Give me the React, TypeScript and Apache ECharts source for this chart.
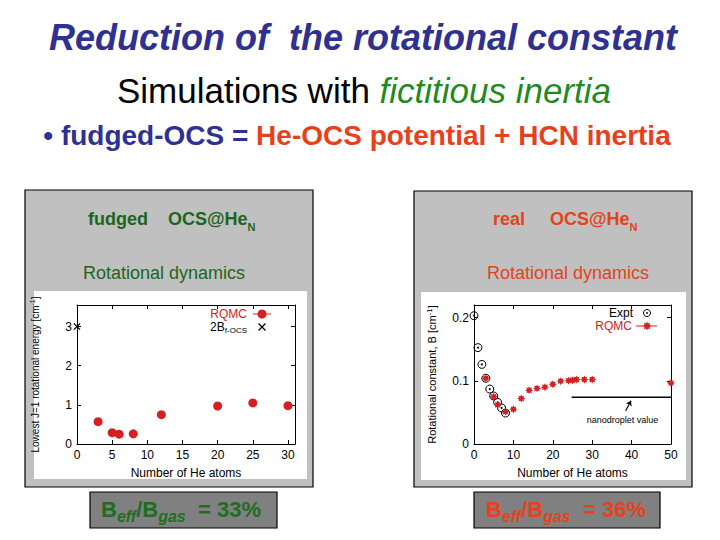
import React, { useEffect, useRef } from "react";
import * as echarts from "echarts";

const FONT = "'Liberation Sans', Arial, Helvetica, sans-serif";
const BLUE = "#2e3192";
const ORANGE = "#e5421c";
const DKGREEN = "#1c661c";
const GREEN = "#1f8a1f";
const BOXGREEN = "#1f6e1f";
const RED = "#d42020";

// ---- fudged OCS@He_N : lowest J=1 rotational energy [cm^-1] ----
const fudgedN = [3, 5, 6, 8, 12, 20, 25, 30];
const fudgedEnergy = [0.57, 0.29, 0.25, 0.26, 0.75, 0.97, 1.05, 0.98];
const twoBodyN = [0];
const twoBodyEnergy = [3.0];
const leftXTicks = [0, 5, 10, 15, 20, 25, 30];
const leftYTicks = [0, 1, 2, 3];

// ---- real OCS@He_N : rotational constant B [cm^-1] ----
const exptN = [0, 1, 2, 3, 4, 5, 6, 7, 8];
const exptB = [0.203, 0.1525, 0.126, 0.104, 0.087, 0.076, 0.066, 0.057, 0.049];
const rqmcN = [3, 5, 6, 8, 10, 12, 14, 16, 18, 20, 22, 24, 25, 26, 28, 30, 50];
const rqmcB = [0.104, 0.075, 0.062, 0.051, 0.055, 0.072, 0.085, 0.088, 0.09, 0.0945, 0.0995, 0.1003, 0.101, 0.102, 0.102, 0.102, 0.0966];
const nanodropletN = [24.8, 50];
const nanodropletB = [0.074, 0.074];
const arrowN = [38.5, 39.85];
const arrowB = [0.0527, 0.0685];
const rightXTicks = [0, 10, 20, 30, 40, 50];
const rightYTicks = [0, 0.1, 0.2];

const zip = (xs: number[], ys: number[]) => xs.map((x, i) => [x, ys[i]]);

const tickFmt = (ticks: number[]) => (v: number) => {
  const t = ticks.find((k) => Math.abs(k - v) < 1e-9);
  return t === undefined ? "" : String(t);
};

const starPts = (cx: number, cy: number, ro: number, ri: number) =>
  Array.from({ length: 16 }, (_, i) => {
    const a = -Math.PI / 2 + (i * Math.PI) / 8;
    const r = i % 2 === 0 ? ro : ri;
    return [cx + r * Math.cos(a), cy + r * Math.sin(a)];
  });
const STAR_PATH =
  "path://" +
  starPts(10, 10, 10, 6)
    .map((p, i) => (i ? "L" : "M") + p[0].toFixed(2) + "," + p[1].toFixed(2))
    .join("") +
  "Z";
const CROSS_PATH =
  "path://M0,1.2L1.2,0L5,3.8L8.8,0L10,1.2L6.2,5L10,8.8L8.8,10L5,6.2L1.2,10L0,8.8L3.8,5Z";

function xAx(gi: number, min: number, max: number, interval: number, ticks: number[], bottom: boolean) {
  return {
    type: "value",
    gridIndex: gi,
    position: bottom ? "bottom" : "top",
    min,
    max,
    interval,
    axisLine: { show: true, onZero: false, lineStyle: { color: "#000", width: 1 } },
    axisTick: { show: true, inside: true, length: 4, lineStyle: { color: "#000" } },
    axisLabel: bottom
      ? { show: true, margin: 5, fontSize: 12, color: "#000", fontFamily: FONT, formatter: tickFmt(ticks) }
      : { show: false },
    splitLine: { show: false },
    name: bottom ? "Number of He atoms" : "",
    nameLocation: "middle",
    nameGap: 23,
    nameTextStyle: { fontSize: 12, color: "#000", fontFamily: FONT },
  };
}

function yAx(
  gi: number,
  min: number,
  max: number,
  interval: number,
  ticks: number[],
  left: boolean,
  name: string,
  nameSize: number,
  nameGap: number
) {
  return {
    type: "value",
    gridIndex: gi,
    position: left ? "left" : "right",
    min,
    max,
    interval,
    axisLine: { show: true, onZero: false, lineStyle: { color: "#000", width: 1 } },
    axisTick: { show: true, inside: true, length: 4, lineStyle: { color: "#000" } },
    axisLabel: left
      ? { show: true, margin: 5, fontSize: 12, color: "#000", fontFamily: FONT, formatter: tickFmt(ticks) }
      : { show: false },
    splitLine: { show: false },
    name: left ? name : "",
    nameLocation: "middle",
    nameGap,
    nameRotate: 90,
    nameTextStyle: {
      fontSize: nameSize,
      lineHeight: nameSize + 3,
      color: "#000",
      fontFamily: FONT,
      rich: {
        sup: { fontSize: nameSize - 3, lineHeight: nameSize - 3, verticalAlign: "top", color: "#000", fontFamily: FONT },
      },
    },
  };
}

function txt(x: number, y: number, text: string, style: any, extra: any = {}) {
  return {
    type: "text",
    x,
    y,
    z: 100,
    style: { text, fontFamily: FONT, align: "left", verticalAlign: "middle", ...style },
    ...extra,
  };
}

function rect(x: number, y: number, w: number, h: number, fill: string, stroke?: string, z = -10) {
  return {
    type: "rect",
    z,
    shape: { x, y, width: w, height: h },
    style: { fill, stroke: stroke || null, lineWidth: stroke ? 1.2 : 0 },
  };
}

export default function App() {
  const ref = useRef<HTMLDivElement>(null);

  useEffect(() => {
    if (!ref.current) return;
    const chart = echarts.init(ref.current, null, { renderer: "svg" });

    const headMain = (color: string) => ({ fontSize: 18, fontWeight: "bold", fill: color, fontFamily: FONT, lineHeight: 26 });
    const headSub = (color: string) => ({
      fontSize: 11,
      fontWeight: "bold",
      fill: color,
      fontFamily: FONT,
      lineHeight: 11,
      verticalAlign: "bottom",
    });
    const boxMain = (color: string) => ({ fontSize: 22, fontWeight: "bold", fill: color, fontFamily: FONT, lineHeight: 30 });
    const boxSub = (color: string) => ({
      fontSize: 16,
      fontWeight: "bold",
      fontStyle: "italic",
      fill: color,
      fontFamily: FONT,
      lineHeight: 16,
      verticalAlign: "bottom",
    });

    const legendStar = starPts(647, 326, 4.5, 2.7).map((p) => [p[0], p[1]]);

    const graphic: any[] = [
      // panels
      rect(25, 190, 288, 297, "#c0c0c0", "#000", -20),
      rect(34, 291, 273, 188, "#ffffff", undefined, -15),
      rect(414, 191, 278, 296, "#c0c0c0", "#000", -20),
      rect(421, 292, 265, 188, "#ffffff", undefined, -15),
      rect(90, 492, 187, 36, "#808080", "#000", -20),
      rect(474, 492, 186, 36, "#808080", "#000", -20),

      // title lines
      txt(363, 37, "Reduction of  the rotational constant", {
        fontSize: 36,
        fontWeight: "bold",
        fontStyle: "italic",
        fill: BLUE,
        align: "center",
      }),
      txt(364, 90, "{k|Simulations with }{g|fictitious inertia}", {
        align: "center",
        rich: {
          k: { fontSize: 35, fill: "#000", fontFamily: FONT },
          g: { fontSize: 35, fontStyle: "italic", fill: GREEN, fontFamily: FONT },
        },
      }),
      txt(357, 135, "{b|• fudged-OCS = }{r|He-OCS potential + HCN inertia}", {
        align: "center",
        rich: {
          b: { fontSize: 28, fontWeight: "bold", fill: BLUE, fontFamily: FONT },
          r: { fontSize: 28, fontWeight: "bold", fill: ORANGE, fontFamily: FONT },
        },
      }),

      // left panel headings
      txt(88, 219, "fudged", { fontSize: 18, fontWeight: "bold", fill: DKGREEN }),
      txt(168, 219, "{m|OCS@He}{s|N}", { rich: { m: headMain(DKGREEN), s: headSub(DKGREEN) } }),
      txt(164, 273, "Rotational dynamics", { fontSize: 18, fill: DKGREEN, align: "center" }),

      // right panel headings
      txt(493, 219, "real", { fontSize: 18, fontWeight: "bold", fill: ORANGE }),
      txt(550, 219, "{m|OCS@He}{s|N}", { rich: { m: headMain(ORANGE), s: headSub(ORANGE) } }),
      txt(568, 273, "Rotational dynamics", { fontSize: 18, fill: ORANGE, align: "center" }),

      // bottom boxes
      txt(181, 509.5, "{m|B}{s|eff}{m|/B}{s|gas}{m|  = 33%}", {
        align: "center",
        rich: { m: boxMain(BOXGREEN), s: boxSub(BOXGREEN) },
      }),
      txt(566, 509.5, "{m|B}{s|eff}{m|/B}{s|gas}{m|  = 36%}", {
        align: "center",
        rich: { m: boxMain(ORANGE), s: boxSub(ORANGE) },
      }),

      // left legend
      txt(247, 314, "RQMC", { fontSize: 12, fill: RED, align: "right" }),
      { type: "line", z: 100, shape: { x1: 253, y1: 314, x2: 271, y2: 314 }, style: { stroke: RED, lineWidth: 1 } },
      { type: "circle", z: 100, shape: { cx: 262, cy: 314, r: 4.5 }, style: { fill: RED } },
      txt(247, 327, "{m|2B}{s|f-OCS}", {
        align: "right",
        rich: {
          m: { fontSize: 12, fill: "#000", fontFamily: FONT, lineHeight: 14 },
          s: { fontSize: 8, fill: "#000", fontFamily: FONT, lineHeight: 8, verticalAlign: "bottom" },
        },
      }),
      { type: "line", z: 100, shape: { x1: 258.5, y1: 323.5, x2: 265.5, y2: 330.5 }, style: { stroke: "#000", lineWidth: 1.3 } },
      { type: "line", z: 100, shape: { x1: 265.5, y1: 323.5, x2: 258.5, y2: 330.5 }, style: { stroke: "#000", lineWidth: 1.3 } },

      // right legend
      txt(633, 313, "Expt", { fontSize: 12, fill: "#000", align: "right" }),
      { type: "circle", z: 100, shape: { cx: 647, cy: 313, r: 3.5 }, style: { fill: "none", stroke: "#000", lineWidth: 1 } },
      { type: "circle", z: 100, shape: { cx: 647, cy: 313, r: 0.9 }, style: { fill: "#000" } },
      txt(632, 326, "RQMC", { fontSize: 12, fill: RED, align: "right" }),
      { type: "line", z: 100, shape: { x1: 636, y1: 326, x2: 657, y2: 326 }, style: { stroke: RED, lineWidth: 1 } },
      { type: "polygon", z: 100, shape: { points: legendStar }, style: { fill: RED } },

      // annotation
      txt(622.5, 420, "nanodroplet value", { fontSize: 9, fill: "#000", align: "center" }),
    ];

    const option: any = {
      animation: false,
      backgroundColor: "#ffffff",
      textStyle: { fontFamily: FONT },
      grid: [
        { left: 77, top: 305, width: 218, height: 139, containLabel: false },
        { left: 474, top: 305, width: 197, height: 139, containLabel: false },
      ],
      xAxis: [
        xAx(0, 0, 31, 5, leftXTicks, true),
        xAx(0, 0, 31, 5, leftXTicks, false),
        xAx(1, 0, 50, 10, rightXTicks, true),
        xAx(1, 0, 50, 10, rightXTicks, false),
      ],
      yAxis: [
        yAx(0, 0, 3.55, 1, leftYTicks, true, "Lowest J=1 rotational energy [cm{sup|-1}]", 10, 35),
        yAx(0, 0, 3.55, 1, leftYTicks, false, "", 10, 35),
        yAx(1, 0, 0.22, 0.1, rightYTicks, true, "Rotational constant, B [cm{sup|-1}]", 11, 35),
        yAx(1, 0, 0.22, 0.1, rightYTicks, false, "", 11, 35),
      ],
      graphic,
      series: [
        {
          name: "RQMC fudged",
          type: "scatter",
          xAxisIndex: 0,
          yAxisIndex: 0,
          symbol: "circle",
          symbolSize: 9,
          itemStyle: { color: RED, opacity: 1 },
          data: zip(fudgedN, fudgedEnergy),
        },
        {
          name: "2B f-OCS",
          type: "scatter",
          xAxisIndex: 0,
          yAxisIndex: 0,
          symbol: CROSS_PATH,
          symbolSize: 7,
          itemStyle: { color: "#000", opacity: 1 },
          data: zip(twoBodyN, twoBodyEnergy),
        },
        {
          name: "Expt",
          type: "scatter",
          xAxisIndex: 2,
          yAxisIndex: 2,
          symbol: "circle",
          symbolSize: 8,
          itemStyle: { color: "rgba(255,255,255,0)", borderColor: "#000", borderWidth: 1, opacity: 1 },
          data: zip(exptN, exptB),
        },
        {
          name: "Expt centre",
          type: "scatter",
          xAxisIndex: 2,
          yAxisIndex: 2,
          symbol: "circle",
          symbolSize: 2,
          itemStyle: { color: "#000", opacity: 1 },
          data: zip(exptN, exptB),
        },
        {
          name: "RQMC real",
          type: "scatter",
          xAxisIndex: 2,
          yAxisIndex: 2,
          symbol: STAR_PATH,
          symbolSize: 8,
          itemStyle: { color: RED, opacity: 1 },
          data: zip(rqmcN, rqmcB),
        },
        {
          name: "nanodroplet",
          type: "line",
          xAxisIndex: 2,
          yAxisIndex: 2,
          symbol: "none",
          lineStyle: { color: "#000", width: 1.5 },
          data: zip(nanodropletN, nanodropletB),
        },
        {
          name: "arrow",
          type: "lines",
          coordinateSystem: "cartesian2d",
          xAxisIndex: 2,
          yAxisIndex: 2,
          symbol: ["none", "arrow"],
          symbolSize: 5,
          lineStyle: { color: "#000", width: 1.2, opacity: 1 },
          data: [{ coords: zip(arrowN, arrowB) }],
        },
      ],
    };

    chart.setOption(option);
    return () => chart.dispose();
  }, []);

  return (
    <div
      ref={ref}
      style={{ position: "fixed", left: 0, top: 0, width: 720, height: 540, background: "#fff" }}
    />
  );
}
